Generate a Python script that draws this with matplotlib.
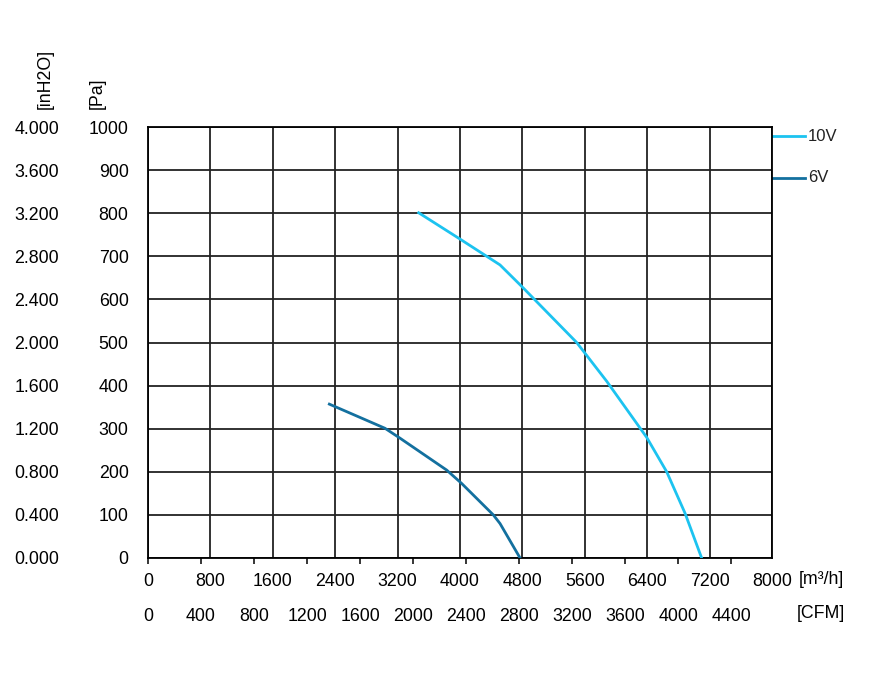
import matplotlib
matplotlib.use("Agg")
import matplotlib.pyplot as plt
import numpy as np

plt.rcParams["font.family"] = ["Liberation Sans", "DejaVu Sans"]

# fan curves, airflow [m3/h] vs static pressure [Pa]
flow_10v = [3470, 4000, 4385, 4513, 4803, 5496, 5881, 6393, 6650, 6885, 7098]
pa_10v = [801, 740, 695, 680, 628, 500, 410, 280, 200, 104, 0]
flow_6v = [2325, 3038, 3231, 3829, 4021, 4427, 4513, 4770]
pa_6v = [357, 301, 278, 204, 173, 100, 80, 0]

m3h_ticks = np.arange(0, 8001, 800)
cfm_ticks = np.arange(0, 4401, 400)
pa_ticks = np.arange(0, 1001, 100)
inh2o_ticks = np.arange(0, 4.001, 0.4)

M3H_PER_CFM = 1.699

c10 = "#1CC3F0"
c6 = "#13709F"
FS = 12.8

fig = plt.figure(figsize=(8.75, 6.73), dpi=100)
ax = fig.add_axes([148 / 875, 1 - 558 / 673, 624 / 875, 431 / 673])

ax.plot(flow_10v, pa_10v, color=c10, lw=2.0, zorder=3)
ax.plot(flow_6v, pa_6v, color=c6, lw=2.0, zorder=3)

ax.set_xlim(0, 8000)
ax.set_ylim(0, 1000)
ax.set_xticks(m3h_ticks)
ax.set_yticks(pa_ticks)
ax.grid(True, color="#222222", lw=1.3)
ax.tick_params(axis="both", length=0, labelsize=FS)
ax.tick_params(axis="x", pad=11)
ax.tick_params(axis="y", pad=14)
for s in ax.spines.values():
    s.set_linewidth(1.3)

# CFM axis (second row below)
sec_x = ax.secondary_xaxis("bottom", functions=(lambda v: v / M3H_PER_CFM, lambda v: v * M3H_PER_CFM))
sec_x.set_xticks(cfm_ticks)
sec_x.tick_params(length=4, width=1.1, pad=32, labelsize=FS)
sec_x.spines["bottom"].set_visible(False)

# inH2O axis (far left)
sec_y = ax.secondary_yaxis("left", functions=(lambda v: v * 0.004, lambda v: v / 0.004))
sec_y.set_yticks(inh2o_ticks)
sec_y.set_yticklabels([f"{v:.3f}" for v in inh2o_ticks])
sec_y.tick_params(length=0, pad=64, labelsize=FS)
sec_y.spines["left"].set_visible(False)

# unit labels
fig.text(97 / 875, 1 - 109 / 673, "[Pa]", rotation=90, ha="center", va="bottom", fontsize=FS)
fig.text(45 / 875, 1 - 109 / 673, "[inH2O]", rotation=90, ha="center", va="bottom", fontsize=FS)
fig.text(799 / 875, 1 - 580 / 673, "[m³/h]", ha="left", va="center", fontsize=FS)
fig.text(797 / 875, 1 - 613 / 673, "[CFM]", ha="left", va="center", fontsize=FS)

# legend outside right
for label, col, yy in [("10V", c10, 0.979), ("6V", c6, 0.882)]:
    ax.plot([1.0, 1.053], [yy, yy], color=col, lw=2.0, transform=ax.transAxes, clip_on=False)
    ax.text(1.058, yy, label, color="#222222", fontsize=12, va="center", ha="left", transform=ax.transAxes)

fig.savefig("out.png", dpi=100)
